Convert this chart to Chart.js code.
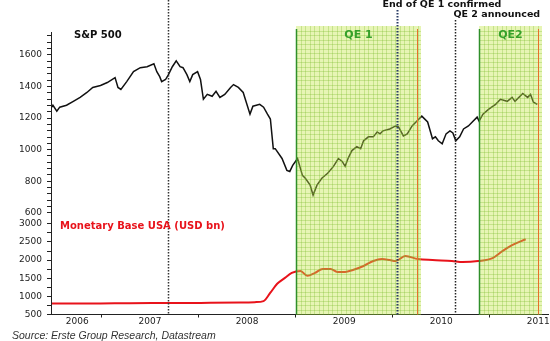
<!DOCTYPE html>
<html>
<head>
<meta charset="utf-8">
<script src="https://cdn.jsdelivr.net/npm/chart.js@4.4.1/dist/chart.umd.min.js"></script>
<style>
  html, body { margin: 0; padding: 0; background: #fff; }
  #wrap { width: 550px; height: 341px; position: relative; }
</style>
</head>
<body>
<div id="wrap"><canvas id="chart"></canvas></div>
<script>
// S&P 500, dates as decimal years
const spxDates = [
  2006.49, 2006.50, 2006.54, 2006.57, 2006.64, 2006.71, 2006.78, 2006.85, 2006.91, 2006.99,
  2007.06, 2007.14, 2007.17, 2007.20, 2007.26, 2007.33, 2007.40, 2007.47, 2007.54, 2007.57,
  2007.60, 2007.62, 2007.66, 2007.69, 2007.73, 2007.77, 2007.81, 2007.84, 2007.88, 2007.91,
  2007.94, 2007.99, 2008.02, 2008.05, 2008.09, 2008.14, 2008.18, 2008.22, 2008.27, 2008.33,
  2008.36, 2008.41, 2008.46, 2008.53, 2008.56, 2008.63, 2008.67, 2008.71, 2008.74, 2008.77,
  2008.79, 2008.86, 2008.91, 2008.94, 2008.97, 2009.02, 2009.07, 2009.10, 2009.15, 2009.18,
  2009.22, 2009.27, 2009.33, 2009.39, 2009.44, 2009.48, 2009.51, 2009.54, 2009.58, 2009.63,
  2009.67, 2009.70, 2009.75, 2009.80, 2009.84, 2009.87, 2009.90, 2009.97, 2010.03, 2010.06,
  2010.11, 2010.15, 2010.20, 2010.25, 2010.30, 2010.36, 2010.41, 2010.44, 2010.47, 2010.51,
  2010.55, 2010.59, 2010.62, 2010.65, 2010.69, 2010.73, 2010.78, 2010.83, 2010.87, 2010.89,
  2010.93, 2010.99, 2011.06, 2011.11, 2011.18, 2011.23, 2011.26, 2011.34, 2011.39, 2011.42,
  2011.45, 2011.49
];
const spxValues = [
  1269, 1281, 1244, 1269, 1281, 1306, 1331, 1362, 1394, 1406,
  1425, 1456, 1394, 1381, 1431, 1494, 1519, 1525, 1544, 1494,
  1462, 1431, 1444, 1475, 1525, 1562, 1525, 1519, 1475, 1431,
  1475, 1494, 1444, 1319, 1350, 1338, 1369, 1331, 1350, 1394,
  1412, 1394, 1362, 1225, 1275, 1287, 1269, 1225, 1194, 1006,
  1006, 944, 869, 862, 900, 944, 837, 819, 775, 712,
  775, 819, 850, 894, 944, 925, 894, 944, 994, 1019,
  1006, 1056, 1081, 1081, 1112, 1100, 1119, 1131, 1150, 1144,
  1087, 1100, 1150, 1181, 1212, 1175, 1069, 1081, 1056, 1037,
  1100, 1119, 1106, 1056, 1081, 1131, 1150, 1181, 1206, 1181,
  1225, 1256, 1287, 1319, 1306, 1331, 1306, 1356, 1331, 1350,
  1300, 1287
];

// Monetary base USA, USD bn
const mbDates = [
  2006.49, 2006.99, 2007.29, 2007.71, 2008.02, 2008.43, 2008.58, 2008.67, 2008.74, 2008.81,
  2008.89, 2008.96, 2009.05, 2009.12, 2009.20, 2009.28, 2009.36, 2009.43, 2009.51, 2009.59,
  2009.70, 2009.80, 2009.89, 2009.97, 2010.03, 2010.13, 2010.26, 2010.41, 2010.61, 2010.72,
  2010.88, 2011.03, 2011.13, 2011.23, 2011.37
];
const mbValues = [
  800, 805, 812, 815, 820, 830, 840, 870, 1100, 1346,
  1510, 1647, 1700, 1565, 1647, 1756, 1756, 1674, 1674, 1728,
  1838, 1974, 2029, 2001, 1974, 2110, 2029, 2001, 1974, 1947,
  1974, 2056, 2247, 2411, 2575
];

// axes
const yearLabels = ['2006', '2007', '2008', '2009', '2010', '2011'];
const yearLabelAt = [2006.75, 2007.5, 2008.5, 2009.5, 2010.5, 2011.5];
const yearBounds = [2007, 2008, 2009, 2010, 2011];
const spxTicks = [600, 800, 1000, 1200, 1400, 1600];
const mbTicks = [500, 1000, 1500, 2000, 2500, 3000];

// QE programmes and events
const qeNames = ['QE 1', 'QE2'];
const qeStart = [2009.0, 2010.89];
const qeEnd = [2010.25, 2011.5];
const eventDates = [2007.69, 2010.04, 2010.645];
const eventLabels = ['', 'End of QE 1 confirmed', 'QE 2 announced'];

const FONT = '"DejaVu Sans", sans-serif';

function minorTicks(major, step, extra) {
  const out = [];
  for (let v = major[0]; v <= major[major.length - 1] + extra; v += step) out.push({ value: v });
  return out;
}

const overlay = {
  id: 'overlay',
  afterDatasetsDraw(chart) {
    const { ctx, chartArea, scales } = chart;
    const x = scales.x;
    const bottom = chartArea.bottom;
    const shadeTop = chartArea.top - 6;
    ctx.save();

    // QE shading with grid
    qeStart.forEach((s, i) => {
      const x0 = Math.round(x.getPixelForValue(s));
      const x1 = Math.round(x.getPixelForValue(qeEnd[i])) + 4;
      ctx.fillStyle = 'rgba(196, 230, 70, 0.40)';
      ctx.fillRect(x0, shadeTop, x1 - x0, bottom - shadeTop);
      ctx.strokeStyle = 'rgba(120, 185, 40, 0.30)';
      ctx.lineWidth = 1;
      ctx.beginPath();
      for (let gx = x0 + 4.5; gx < x1; gx += 4.5) {
        ctx.moveTo(Math.round(gx) + 0.5, shadeTop);
        ctx.lineTo(Math.round(gx) + 0.5, bottom);
      }
      for (let gy = shadeTop + 4.5; gy < bottom; gy += 4.5) {
        ctx.moveTo(x0, Math.round(gy) + 0.5);
        ctx.lineTo(x1, Math.round(gy) + 0.5);
      }
      ctx.stroke();

      // start / end lines
      ctx.lineWidth = 1.5;
      ctx.strokeStyle = '#2f8f2a';
      ctx.beginPath();
      ctx.moveTo(x0 + 0.5, chartArea.top - 3);
      ctx.lineTo(x0 + 0.5, bottom);
      ctx.stroke();
      const xe = Math.round(x.getPixelForValue(qeEnd[i])) + 0.5;
      ctx.lineWidth = 1;
      ctx.strokeStyle = '#e8702a';
      ctx.beginPath();
      ctx.moveTo(xe, chartArea.top - 3);
      ctx.lineTo(xe, bottom);
      ctx.stroke();

      ctx.fillStyle = '#36a02a';
      ctx.font = 'bold 11px ' + FONT;
      ctx.textAlign = 'center';
      ctx.textBaseline = 'middle';
      ctx.fillText(qeNames[i], (x0 + x1) / 2, chartArea.top + 3);
    });

    // event markers
    const labelY = [0, 5, 15];
    const labelShift = [0, -15, -2];
    const lineColor = ['#333333', '#2a3c66', '#222222'];
    eventDates.forEach((d, i) => {
      const px = Math.round(x.getPixelForValue(d)) + 0.5;
      const top = eventLabels[i] ? labelY[i] + 5 : 0;
      ctx.setLineDash([1.5, 1.5]);
      ctx.lineWidth = i === 1 ? 2 : 1.5;
      ctx.strokeStyle = lineColor[i];
      ctx.beginPath();
      ctx.moveTo(px, top);
      ctx.lineTo(px, bottom);
      ctx.stroke();
      ctx.setLineDash([]);
      if (eventLabels[i]) {
        ctx.fillStyle = '#111';
        ctx.font = 'bold 9.5px ' + FONT;
        ctx.textAlign = 'left';
        ctx.textBaseline = 'middle';
        ctx.fillText(eventLabels[i], px + labelShift[i], labelY[i]);
      }
    });

    // panel titles
    ctx.textAlign = 'left';
    ctx.textBaseline = 'middle';
    ctx.font = 'bold 10px ' + FONT;
    ctx.fillStyle = '#111';
    ctx.fillText('S&P 500', chartArea.left + 23, scales.y.top + 3);
    ctx.fillStyle = '#e8131b';
    ctx.fillText('Monetary Base USA (USD bn)', chartArea.left + 9, scales.y2.top + 8);

    // source
    ctx.fillStyle = '#333';
    ctx.font = 'italic 10.5px "Liberation Sans", Arial, sans-serif';
    ctx.fillText('Source: Erste Group Research, Datastream', 12, chart.height - 5);
    ctx.restore();
  }
};

const tickFont = { family: FONT, size: 9 };

new Chart(document.getElementById('chart'), {
  type: 'line',
  data: {
    datasets: [
      {
        label: 'S&P 500',
        data: spxDates.map((d, i) => ({ x: d, y: spxValues[i] })),
        yAxisID: 'y',
        borderColor: '#111',
        borderWidth: 1.5,
        pointRadius: 0,
        tension: 0
      },
      {
        label: 'Monetary Base USA (USD bn)',
        data: mbDates.map((d, i) => ({ x: d, y: mbValues[i] })),
        yAxisID: 'y2',
        borderColor: '#e8131b',
        borderWidth: 2,
        pointRadius: 0,
        cubicInterpolationMode: 'monotone'
      }
    ]
  },
  options: {
    responsive: true,
    maintainAspectRatio: false,
    animation: false,
    layout: { padding: { top: 32, right: 2, left: 0, bottom: 0 } },
    plugins: { legend: { display: false }, tooltip: { enabled: false } },
    scales: {
      x: {
        type: 'linear',
        min: 2006.48,
        max: 2011.6,
        afterBuildTicks: s => {
          s.ticks = yearBounds.concat(yearLabelAt).sort((a, b) => a - b).map(v => ({ value: v }));
        },
        afterFit: s => { s.height = 26.5; },
        ticks: {
          autoSkip: false,
          maxRotation: 0,
          padding: -1,
          color: '#222',
          font: tickFont,
          callback: v => {
            const k = yearLabelAt.indexOf(v);
            return k >= 0 ? yearLabels[k] : '';
          }
        },
        grid: {
          drawOnChartArea: false,
          tickLength: 3,
          tickColor: c => (c.tick && yearBounds.includes(c.tick.value)) ? '#222' : 'rgba(0,0,0,0)'
        },
        border: { color: '#222', width: 1 }
      },
      y2: {
        stack: 'panels',
        stackWeight: 96,
        position: 'left',
        min: 500,
        max: 3151,
        afterBuildTicks: s => { s.ticks = minorTicks(mbTicks, 250, 0); },
        afterFit: s => { s.width = 51; },
        ticks: {
          autoSkip: false,
          padding: 5,
          color: '#222',
          font: tickFont,
          callback: v => mbTicks.includes(v) ? String(v) : ''
        },
        grid: { drawOnChartArea: false, tickLength: 4, tickColor: '#222' },
        border: { color: '#222', width: 1 }
      },
      y: {
        stack: 'panels',
        stackWeight: 186,
        position: 'left',
        min: 565,
        max: 1745,
        afterBuildTicks: s => { s.ticks = minorTicks(spxTicks, 40, 120); },
        afterFit: s => { s.width = 51; },
        ticks: {
          autoSkip: false,
          padding: 5,
          color: '#222',
          font: tickFont,
          callback: v => spxTicks.includes(v) ? String(v) : ''
        },
        grid: { drawOnChartArea: false, tickLength: 4, tickColor: '#222' },
        border: { color: '#222', width: 1 }
      }
    }
  },
  plugins: [overlay]
});
</script>
</body>
</html>
